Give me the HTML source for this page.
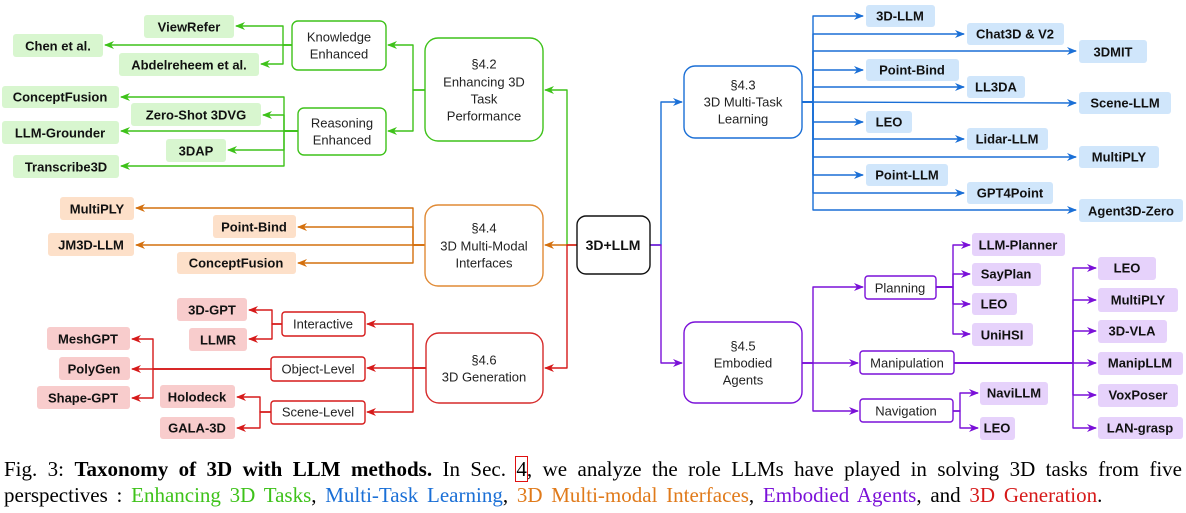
<!DOCTYPE html>
<html><head><meta charset="utf-8"><style>
html,body{margin:0;padding:0;background:#fff;width:1186px;height:513px;overflow:hidden}
svg{position:absolute;left:0;top:0}
.cap{position:absolute;left:4px;width:1178px;font-family:"Liberation Serif",serif;font-size:21px;line-height:26px;white-space:nowrap}
.l1{top:456px;text-align:justify;text-align-last:justify;white-space:normal}
.l2{top:482px;word-spacing:3.5px}
</style></head><body>
<svg width="1186" height="513" viewBox="0 0 1186 513" xmlns="http://www.w3.org/2000/svg">
<defs>
<marker id="ag" markerWidth="10" markerHeight="10" refX="9" refY="5" orient="auto" markerUnits="userSpaceOnUse"><path d="M0,1 L10,5 L0,9 L3,5z" fill="#3ec21a"/></marker>
<marker id="ao" markerWidth="10" markerHeight="10" refX="9" refY="5" orient="auto" markerUnits="userSpaceOnUse"><path d="M0,1 L10,5 L0,9 L3,5z" fill="#d4700e"/></marker>
<marker id="ar" markerWidth="10" markerHeight="10" refX="9" refY="5" orient="auto" markerUnits="userSpaceOnUse"><path d="M0,1 L10,5 L0,9 L3,5z" fill="#d61a1a"/></marker>
<marker id="ab" markerWidth="10" markerHeight="10" refX="9" refY="5" orient="auto" markerUnits="userSpaceOnUse"><path d="M0,1 L10,5 L0,9 L3,5z" fill="#1a6fd6"/></marker>
<marker id="ap" markerWidth="10" markerHeight="10" refX="9" refY="5" orient="auto" markerUnits="userSpaceOnUse"><path d="M0,1 L10,5 L0,9 L3,5z" fill="#7a10d8"/></marker>
</defs>
<g fill="none" stroke-width="1.4" stroke-linejoin="round">
<g stroke="#3ec21a" marker-end="url(#ag)">
<polyline points="567,245 567,90 545,90"/>
<polyline points="425,90 413,90 413,45 388,45"/>
<polyline points="425,90 413,90 413,131 388,131"/>
<polyline points="292,45 283,45 283,26 236,26"/>
<polyline points="292,45 105,45"/>
<polyline points="292,45 283,45 283,64 261,64"/>
<polyline points="298,131 284,131 284,97 121,97"/>
<polyline points="298,131 284,131 284,115 263,115"/>
<polyline points="298,131 121,131"/>
<polyline points="298,131 284,131 284,150 228,150"/>
<polyline points="298,131 284,131 284,166 121,166"/>
</g>
<g stroke="#d4700e" marker-end="url(#ao)">
<polyline points="577,245 545,245"/>
<polyline points="425,245 413,245 413,208 136,208"/>
<polyline points="425,245 413,245 413,227 298,227"/>
<polyline points="425,245 136,245"/>
<polyline points="425,245 413,245 413,263 298,263"/>
</g>
<g stroke="#d61a1a" marker-end="url(#ar)">
<polyline points="577,245 567,245 567,368 545,368"/>
<polyline points="426,368 413,368 413,324 367,324"/>
<polyline points="426,368 367,368"/>
<polyline points="426,368 413,368 413,412 367,412"/>
<polyline points="282,324 272,324 272,310 249,310"/>
<polyline points="282,324 272,324 272,339 249,339"/>
<polyline points="271,369 153,369 153,339 132,339"/>
<polyline points="271,369 132,369"/>
<polyline points="271,369 153,369 153,398 132,398"/>
<polyline points="271,412 260,412 260,397 237,397"/>
<polyline points="271,412 260,412 260,428 237,428"/>
</g>
<g stroke="#1a6fd6" marker-end="url(#ab)">
<polyline points="650,245 661,245 661,102 682,102"/>
<polyline points="802,102 813,102 813,16 863,16"/>
<polyline points="802,102 813,102 813,34 964,34"/>
<polyline points="802,102 813,102 813,51 1076,51"/>
<polyline points="802,102 813,102 813,70 863,70"/>
<polyline points="802,102 813,102 813,87 964,87"/>
<polyline points="802,102 1076,103"/>
<polyline points="802,102 813,102 813,122 863,122"/>
<polyline points="802,102 813,102 813,139 964,139"/>
<polyline points="802,102 813,102 813,157 1076,157"/>
<polyline points="802,102 813,102 813,175 863,175"/>
<polyline points="802,102 813,102 813,193 964,193"/>
<polyline points="802,102 813,102 813,210 1076,210"/>
</g>
<g stroke="#7a10d8" marker-end="url(#ap)">
<polyline points="650,245 661,245 661,363 682,363"/>
<polyline points="802,363 813,363 813,287 863,287"/>
<polyline points="802,363 858,363"/>
<polyline points="802,363 813,363 813,411 858,411"/>
<polyline points="936,287 953,287 953,245 970,245"/>
<polyline points="936,287 953,287 953,274 970,274"/>
<polyline points="936,287 953,287 953,304 970,304"/>
<polyline points="936,287 953,287 953,334 970,334"/>
<polyline points="954,363 1073,363 1073,268 1096,268"/>
<polyline points="954,363 1073,363 1073,300 1096,300"/>
<polyline points="954,363 1073,363 1073,331 1096,331"/>
<polyline points="954,363 1096,363"/>
<polyline points="954,363 1073,363 1073,395 1096,395"/>
<polyline points="954,363 1073,363 1073,428 1096,428"/>
<polyline points="953,411 960,411 960,393 978,393"/>
<polyline points="953,411 960,411 960,428 978,428"/>
</g>
</g>

<g stroke-width="1.4">
<rect x="577" y="216" width="73" height="58" rx="9" fill="#fff" stroke="#111"/>
<rect x="425" y="38" width="118" height="103" rx="13" fill="#fff" stroke="#3ec21a"/>
<rect x="292" y="21" width="94" height="49" rx="6" fill="#fff" stroke="#3ec21a"/>
<rect x="298" y="108" width="88" height="47" rx="6" fill="#fff" stroke="#3ec21a"/>
<rect x="425" y="205" width="118" height="81" rx="13" fill="#fff" stroke="#e08a35"/>
<rect x="426" y="333" width="117" height="70" rx="13" fill="#fff" stroke="#d62a2a"/>
<rect x="282" y="312" width="83" height="24" rx="3" fill="#fff" stroke="#d61a1a"/>
<rect x="271" y="357" width="94" height="24" rx="3" fill="#fff" stroke="#d61a1a"/>
<rect x="271" y="401" width="94" height="23" rx="3" fill="#fff" stroke="#d61a1a"/>
<rect x="684" y="66" width="118" height="72" rx="11" fill="#fff" stroke="#1a6fd6"/>
<rect x="684" y="322" width="118" height="81" rx="11" fill="#fff" stroke="#7a10d8"/>
<rect x="865" y="276" width="71" height="23" rx="3" fill="#fff" stroke="#7a10d8"/>
<rect x="860" y="351" width="94" height="23" rx="3" fill="#fff" stroke="#7a10d8"/>
<rect x="860" y="399" width="93" height="23" rx="3" fill="#fff" stroke="#7a10d8"/>
</g>
<g>
<g fill="#d8f6cf">
<rect x="144" y="15" width="90" height="23" rx="3"/>
<rect x="13" y="34" width="90" height="23" rx="3"/>
<rect x="119" y="53" width="140" height="23" rx="3"/>
<rect x="2" y="86" width="117" height="22" rx="3"/>
<rect x="131" y="103" width="130" height="23" rx="3"/>
<rect x="2" y="121" width="117" height="23" rx="3"/>
<rect x="166" y="139" width="60" height="23" rx="3"/>
<rect x="13" y="155" width="106" height="23" rx="3"/>
</g>
<g fill="#fde0c9">
<rect x="60" y="197" width="74" height="23" rx="3"/>
<rect x="213" y="215" width="83" height="23" rx="3"/>
<rect x="48" y="233" width="86" height="23" rx="3"/>
<rect x="177" y="252" width="119" height="22" rx="3"/>
</g>
<g fill="#f8cccc">
<rect x="177" y="298" width="70" height="23" rx="3"/>
<rect x="189" y="328" width="58" height="23" rx="3"/>
<rect x="47" y="327" width="83" height="23" rx="3"/>
<rect x="59" y="357" width="71" height="23" rx="3"/>
<rect x="37" y="386" width="93" height="23" rx="3"/>
<rect x="160" y="385" width="75" height="23" rx="3"/>
<rect x="160" y="417" width="75" height="22" rx="3"/>
</g>
<g fill="#d0e6fb">
<rect x="866" y="5" width="69" height="22" rx="3"/>
<rect x="967" y="23" width="97" height="22" rx="3"/>
<rect x="1079" y="40" width="68" height="23" rx="3"/>
<rect x="866" y="59" width="93" height="22" rx="3"/>
<rect x="967" y="76" width="58" height="22" rx="3"/>
<rect x="1079" y="92" width="92" height="22" rx="3"/>
<rect x="866" y="111" width="46" height="22" rx="3"/>
<rect x="967" y="128" width="81" height="22" rx="3"/>
<rect x="1079" y="146" width="80" height="22" rx="3"/>
<rect x="866" y="164" width="82" height="22" rx="3"/>
<rect x="967" y="182" width="86" height="22" rx="3"/>
<rect x="1079" y="199" width="104" height="23" rx="3"/>
</g>
<g fill="#e6d2fb">
<rect x="972" y="233" width="93" height="23" rx="3"/>
<rect x="972" y="263" width="69" height="23" rx="3"/>
<rect x="972" y="293" width="45" height="22" rx="3"/>
<rect x="972" y="323" width="61" height="23" rx="3"/>
<rect x="1098" y="257" width="58" height="23" rx="3"/>
<rect x="1098" y="288" width="80" height="24" rx="3"/>
<rect x="1098" y="320" width="69" height="23" rx="3"/>
<rect x="1098" y="352" width="85" height="23" rx="3"/>
<rect x="1098" y="384" width="80" height="23" rx="3"/>
<rect x="1098" y="417" width="85" height="22" rx="3"/>
<rect x="980" y="382" width="68" height="23" rx="3"/>
<rect x="980" y="417" width="35" height="23" rx="3"/>
</g>
</g>

<g font-family="Liberation Sans, sans-serif" font-size="13" font-weight="bold" fill="#111" text-anchor="middle" dominant-baseline="central">
<text x="613" y="245" font-size="14">3D+LLM</text>
<text x="189" y="27">ViewRefer</text>
<text x="58" y="46">Chen et al.</text>
<text x="189" y="65">Abdelreheem et al.</text>
<text x="60" y="97">ConceptFusion</text>
<text x="196" y="115">Zero-Shot 3DVG</text>
<text x="60" y="133">LLM-Grounder</text>
<text x="196" y="151">3DAP</text>
<text x="66" y="167">Transcribe3D</text>
<text x="97" y="209">MultiPLY</text>
<text x="254" y="227">Point-Bind</text>
<text x="91" y="245">JM3D-LLM</text>
<text x="236" y="263">ConceptFusion</text>
<text x="212" y="310">3D-GPT</text>
<text x="218" y="340">LLMR</text>
<text x="88" y="339">MeshGPT</text>
<text x="94" y="369">PolyGen</text>
<text x="83" y="398">Shape-GPT</text>
<text x="197" y="397">Holodeck</text>
<text x="197" y="428">GALA-3D</text>
<text x="900" y="16">3D-LLM</text>
<text x="1015" y="34">Chat3D &amp; V2</text>
<text x="1113" y="52">3DMIT</text>
<text x="912" y="70">Point-Bind</text>
<text x="996" y="87">LL3DA</text>
<text x="1125" y="103">Scene-LLM</text>
<text x="889" y="122">LEO</text>
<text x="1007" y="139">Lidar-LLM</text>
<text x="1119" y="157">MultiPLY</text>
<text x="907" y="175">Point-LLM</text>
<text x="1010" y="193">GPT4Point</text>
<text x="1131" y="211">Agent3D-Zero</text>
<text x="1018" y="245">LLM-Planner</text>
<text x="1006" y="274">SayPlan</text>
<text x="994" y="304">LEO</text>
<text x="1002" y="335">UniHSI</text>
<text x="1127" y="268">LEO</text>
<text x="1138" y="300">MultiPLY</text>
<text x="1132" y="331">3D-VLA</text>
<text x="1140" y="363">ManipLLM</text>
<text x="1138" y="395">VoxPoser</text>
<text x="1140" y="428">LAN-grasp</text>
<text x="1014" y="393">NaviLLM</text>
<text x="997" y="428">LEO</text>
</g>
<g font-family="Liberation Sans, sans-serif" font-size="13" fill="#222" text-anchor="middle" dominant-baseline="central">
<text x="339" y="37">Knowledge</text><text x="339" y="54">Enhanced</text>
<text x="342" y="123">Reasoning</text><text x="342" y="140">Enhanced</text>
<text x="484" y="64">§4.2</text><text x="484" y="82">Enhancing 3D</text><text x="484" y="99">Task</text><text x="484" y="116">Performance</text>
<text x="484" y="228">§4.4</text><text x="484" y="246">3D Multi-Modal</text><text x="484" y="263">Interfaces</text>
<text x="484" y="360">§4.6</text><text x="484" y="377">3D Generation</text>
<text x="323" y="324">Interactive</text>
<text x="318" y="369">Object-Level</text>
<text x="318" y="412">Scene-Level</text>
<text x="743" y="85">§4.3</text><text x="743" y="102">3D Multi-Task</text><text x="743" y="119">Learning</text>
<text x="743" y="346">§4.5</text><text x="743" y="363">Embodied</text><text x="743" y="380">Agents</text>
<text x="900" y="288">Planning</text>
<text x="907" y="363">Manipulation</text>
<text x="906" y="411">Navigation</text>
</g>
</svg>
<div class="cap l1">Fig. 3: <b>Taxonomy of 3D with LLM methods.</b> In Sec. <span style="outline:1.3px solid #e01010;outline-offset:0">4</span>, we analyze the role LLMs have played in solving 3D tasks from five</div>
<div class="cap l2">perspectives : <span style="color:#3ec21a">Enhancing 3D Tasks</span>, <span style="color:#1a6fd6">Multi-Task Learning</span>, <span style="color:#e07a1a">3D Multi-modal Interfaces</span>, <span style="color:#7a10d8">Embodied Agents</span>, and <span style="color:#d61a1a">3D Generation</span>.</div>
</body></html>
